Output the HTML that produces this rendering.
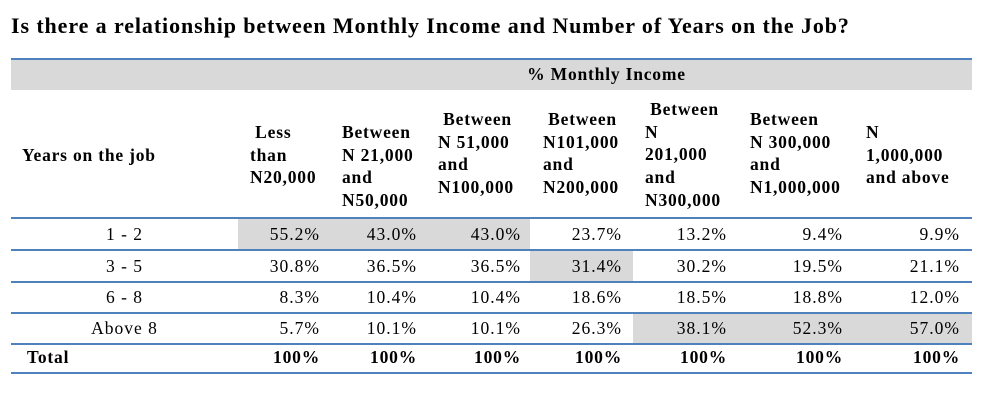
<!DOCTYPE html>
<html><head><meta charset="utf-8"><style>
body{margin:0;width:981px;height:411px;background:#fff;font-family:"Liberation Serif",serif;color:#000;position:relative;overflow:hidden}
.a{position:absolute;white-space:nowrap}
.h{position:absolute;font-weight:bold;font-size:17.5px;letter-spacing:0.8px;line-height:22.7px;white-space:pre}
.ln{position:absolute;left:11px;width:961px;height:2px;background:#4f81bd}
.g{position:absolute;background:#d9d9d9}
.v{position:absolute;font-size:17.5px;letter-spacing:1px;text-align:right;white-space:nowrap}
.c{position:absolute;font-size:17.5px;letter-spacing:1px;text-align:center;width:227px;left:11px}
</style></head><body>
<div class="a" style="left:11px;top:13px;font-size:22px;letter-spacing:0.9px;font-weight:bold">Is there a relationship between Monthly Income and Number of Years on the Job?</div>
<div class="g" style="left:11px;top:60px;width:961px;height:30px"></div>
<div class="ln" style="top:58px;height:1.5px"></div>
<div class="a" style="left:11px;width:961px;top:64px;text-align:center;font-weight:bold;font-size:17.5px;letter-spacing:0.8px;padding-left:230px;box-sizing:border-box">% Monthly Income</div>
<div class="h" style="left:22px;top:144px">Years on the job</div>
<div class="h" style="left:250px;top:121px"> Less
than
N20,000</div>
<div class="h" style="left:342px;top:121px">Between
N 21,000
and
N50,000</div>
<div class="h" style="left:438px;top:108px"> Between
N 51,000
and
N100,000</div>
<div class="h" style="left:543px;top:108px"> Between
N101,000
and
N200,000</div>
<div class="h" style="left:645px;top:98px"> Between
N
201,000
and
N300,000</div>
<div class="h" style="left:750px;top:108px">Between
N 300,000
and
N1,000,000</div>
<div class="h" style="left:866px;top:121px">N
1,000,000
and above</div>
<div class="g" style="left:238px;top:219px;width:292px;height:31px"></div>
<div class="g" style="left:530px;top:251px;width:103px;height:31px"></div>
<div class="g" style="left:633px;top:314px;width:339px;height:29px"></div>
<div class="ln" style="top:217px"></div>
<div class="ln" style="top:249px"></div>
<div class="ln" style="top:281px"></div>
<div class="ln" style="top:312px"></div>
<div class="ln" style="top:343px"></div>
<div class="ln" style="top:372px"></div>
<div class="c" style="top:224px">1 - 2</div>
<div class="c" style="top:256px">3 - 5</div>
<div class="c" style="top:287px">6 - 8</div>
<div class="c" style="top:318px">Above 8</div>
<div class="a" style="left:27px;top:347px;font-weight:bold;font-size:17.5px;letter-spacing:0.8px">Total</div>
<div id="vals"></div>
<script>
var ends=[320,417,521,622,727,843,960];
var rows=[["55.2%","43.0%","43.0%","23.7%","13.2%","9.4%","9.9%"],
["30.8%","36.5%","36.5%","31.4%","30.2%","19.5%","21.1%"],
["8.3%","10.4%","10.4%","18.6%","18.5%","18.8%","12.0%"],
["5.7%","10.1%","10.1%","26.3%","38.1%","52.3%","57.0%"],
["100%","100%","100%","100%","100%","100%","100%"]];
var tops=[224,256,287,318,347],h="";
rows.forEach(function(r,i){r.forEach(function(t,j){h+='<div class="v" style="right:'+(981-ends[j])+'px;top:'+tops[i]+'px;'+(i==4?'font-weight:bold;letter-spacing:0.8px':'')+'">'+t+'</div>';});});
document.getElementById('vals').innerHTML=h;
</script>
</body></html>
